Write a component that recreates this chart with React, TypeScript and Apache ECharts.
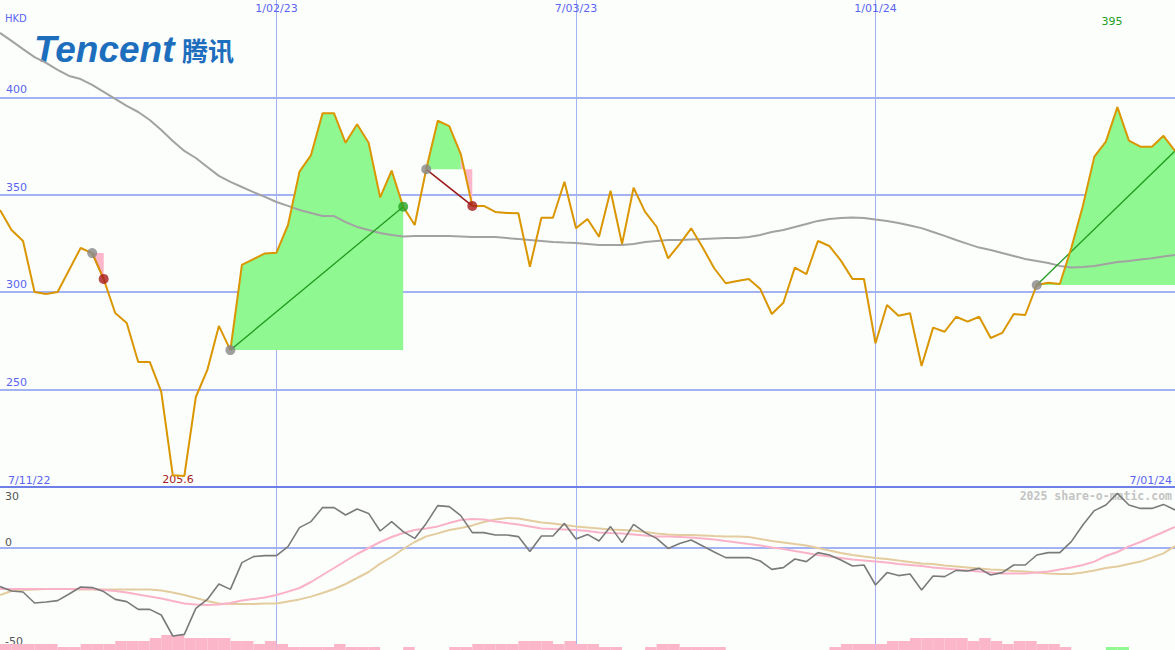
import React, { useEffect, useRef } from "react";
import * as echarts from "echarts";

// ---- data ----
const firstWeek = "2022-07-18";
const pointCount = 103;
const dateTickIdx = [24, 50, 76];
const rangeStartLabel = "7/11/22";
const rangeEndLabel = "7/01/24";
const currency = "HKD";
const priceTicks = [250, 300, 350, 400];
const lowerTickLabels = ["30", "0", "-50"];
const lowerTickValues = [30, 0, -50];

const price = [
  342.2, 331.9, 326.3, 300.1, 299.1, 300.1, 311.4, 322.7, 320.1, 306.8,
  289.3, 284.2, 264.2, 264.2, 248.8, 206.0, 205.6, 246.2, 260.1, 282.7,
  270.3, 314.0, 317.0, 319.9, 320.3, 334.5, 361.9, 370.4, 391.8, 391.8,
  376.7, 386.2, 376.7, 348.7, 362.4, 343.9, 334.5, 363.1, 388.0, 385.3,
  370.9, 344.3, 344.3, 341.2, 340.7, 340.5, 313.1, 338.2, 338.2, 356.7,
  332.8, 337.6, 328.5, 352.1, 324.7, 353.6, 341.2, 333.6, 317.4, 324.7,
  332.8, 322.9, 312.3, 304.6, 305.7, 306.8, 301.6, 288.8, 294.6, 312.6,
  309.3, 326.3, 323.7, 316.2, 306.8, 306.8, 273.8, 293.4, 287.9, 289.2,
  262.1, 281.8, 279.7, 287.4, 284.9, 287.4, 276.5, 279.1, 288.8, 288.3,
  303.7, 304.9, 304.2, 322.7, 344.3, 369.6, 377.3, 395.0, 377.8, 374.7,
  374.7, 380.3, 372.5,
];

const longAverage = [
  433.1, 429.0, 424.8, 420.7, 417.7, 414.1, 411.0, 409.4, 406.4, 402.8,
  399.2, 395.6, 392.5, 388.4, 383.3, 377.6, 372.5, 368.9, 364.3, 359.7,
  356.6, 354.0, 351.4, 348.9, 346.3, 344.3, 342.2, 340.7, 339.1, 339.1,
  336.0, 333.5, 331.9, 330.4, 329.4, 328.6, 328.9, 328.9, 328.9, 328.9,
  328.6, 328.3, 328.3, 328.3, 327.8, 327.3, 326.8, 326.3, 325.8, 325.5,
  325.3, 324.8, 324.2, 324.2, 324.2, 324.8, 325.8, 326.3, 326.8, 326.8,
  327.1, 327.3, 327.6, 327.8, 327.8, 328.3, 329.4, 330.9, 331.9, 333.5,
  335.0, 336.6, 337.6, 338.1, 338.4, 338.1, 337.3, 336.6, 335.5, 334.2,
  332.9, 330.9, 328.9, 326.8, 324.8, 322.9, 321.7, 320.1, 318.6, 317.0,
  316.0, 315.0, 313.5, 312.7, 312.9, 313.5, 314.5, 315.5, 316.0, 316.8,
  317.4, 318.3, 319.1,
];

const oscillator = [
  -19.3, -21.5, -22, -27.5, -27, -26.3, -23, -19.5, -19.8, -21.8,
  -25.7, -26.8, -30.7, -30.7, -33.5, -44, -43.2, -30.2, -25.7, -18,
  -20.7, -7.3, -4.3, -3.8, -3.8, 0.7, 10.2, 13.2, 20.2, 20.2,
  16.5, 19.5, 17.3, 8.5, 13.2, 8.2, 4.8, 12.3, 21.2, 20.7,
  16.2, 7.7, 7.7, 6.5, 6.5, 5.7, -1.8, 6, 6, 12.3,
  4.5, 6.8, 3.5, 10.7, 2.7, 11.8, 7.7, 4.8, -0.2, 2.3,
  4, 1, -2, -4.8, -4.8, -4.8, -6.5, -10.7, -9.8, -5.5,
  -6.8, -2.3, -3.5, -6, -9, -8.5, -18.5, -12.3, -13.8, -13,
  -21, -14, -14.3, -11.2, -11.5, -10.2, -13.5, -12.3, -8.5, -8.5,
  -3.5, -2.3, -2.3, 3.2, 11.5, 18.7, 21.5, 27.3, 21.5, 19.8,
  19.8, 21.8, 19,
];

const signalFast = [
  -20.5, -20.5, -20.5, -20.5, -20.5, -20.5, -20.5, -20.5, -20.5, -21,
  -21.5, -22.3, -23.3, -24.3, -25.3, -26.5, -27.7, -28.3, -28.5, -28.3,
  -27.5, -26.3, -25.5, -24.8, -23.5, -21.8, -20, -17, -13.5, -10,
  -6.5, -3, 0, 3, 5.5, 7.5, 9, 9.8, 10.8, 12.5,
  14, 14.5, 14.3, 13.3, 12.5, 11.8, 10.8, 9.8, 9.5, 9.3,
  9, 8.5, 7.8, 7.5, 7.3, 6.8, 6.3, 5.8, 5.7, 5.5,
  5.3, 4.8, 4.3, 3.5, 2.8, 2, 1.3, 0.3, -0.5, -1.5,
  -2.5, -3.5, -4.3, -5, -5.8, -6.3, -6.8, -7.3, -8, -8.5,
  -9, -9.8, -10.3, -10.8, -11.3, -11.8, -12.3, -12.7, -12.8, -12.7,
  -12.3, -11.8, -10.8, -9.8, -8.5, -6.8, -4, -2, 0.8, 3,
  5.5, 8, 10.5,
];

const signalSlow = [
  -23.5, -21.5, -21, -20.8, -20.5, -20.5, -20.5, -20.7, -20.7, -20.7,
  -20.7, -20.7, -20.7, -20.7, -21.3, -22.3, -23.5, -25, -26.5, -27.8,
  -28, -28, -28, -27.8, -27.7, -26.8, -25.7, -24.3, -22.5, -20.5,
  -18, -15, -12, -7.8, -4.5, -0.5, 3, 5.8, 7.3, 9,
  10, 11.3, 13, 14.3, 15, 14.8, 13.8, 12.8, 12.3, 11.5,
  10.8, 10.3, 9.8, 9.3, 9, 8.7, 8, 7.3, 6.8, 6.5,
  6.5, 6.3, 6, 5.8, 5.7, 5.5, 4.5, 3.5, 2.8, 2,
  1.3, 0, -1.3, -2.5, -3.5, -4.3, -5, -5.5, -6.3, -7,
  -7.7, -8, -8.7, -9.2, -9.7, -10.2, -10.7, -11, -11.5, -11.8,
  -12.3, -12.8, -13, -13, -12.3, -11.3, -10, -9.3, -8, -6.8,
  -4.8, -2.7, 1,
];

// negative = pink bar, positive = green bar
const histogram = [
  -2, -2, -2, -2, -2, -1, -1, -2, -2, -2,
  -3, -3, -3, -4, -5, -5, -4, -4, -4, -4,
  -3, -3, -2, -3, -2, -1, -1, -1, -1, -2,
  -1, -1, -1, 0, 0, -1, 0, 0, 0, -1,
  -1, -2, -2, -2, -2, -3, -3, -3, -2, -3,
  -2, -2, -1, -1, 0, 0, -1, -2, -2, -1,
  -1, -1, -1, 0, 0, 0, 0, 0, 0, 0,
  0, 0, -1, -2, -2, -2, -2, -3, -3, -4,
  -4, -4, -4, -4, -3, -4, -3, -2, -3, -3,
  -2, -2, -1, 0, 0, 0, 1, 1, 0, 0,
  0, 0, 0,
];

const tradeEntry = [8, 20, 37, 90];
const tradeExit = [9, 35, 41, 102];
const tradeOpen = [false, false, false, true];

// ---- styles ----
const BLUE = "#5a64f0";
const GRID = "#a3b2f2";
const GREEN_FILL = "#90f890";
const PINK_FILL = "#fbb6c9";

function buildDates(): string[] {
  const out: string[] = [];
  const t0 = Date.parse(firstWeek + "T00:00:00Z");
  for (let i = 0; i < pointCount; i++) {
    const d = new Date(t0 + i * 7 * 86400000);
    const m = d.getUTCMonth() + 1;
    const dd = String(d.getUTCDate()).padStart(2, "0");
    const yy = String(d.getUTCFullYear() % 100).padStart(2, "0");
    out.push(`${m}/${dd}/${yy}`);
  }
  return out;
}

function buildOption() {
  const dates = buildDates();
  const isTick = (i: number) => dateTickIdx.indexOf(i) >= 0;
  const series: any[] = [];

  // trade fills
  tradeEntry.forEach((e, t) => {
    const x = tradeExit[t];
    const base = price[e];
    let run: number[][] = [];
    let runColor = "";
    const flush = () => {
      if (run.length > 1) {
        series.push({
          type: "line", xAxisIndex: 0, yAxisIndex: 0, z: 1, silent: true,
          showSymbol: false, symbol: "none",
          lineStyle: { width: 0, opacity: 0 },
          areaStyle: { color: runColor, opacity: 1, origin: base },
          data: run,
        });
      }
    };
    for (let j = e; j < x; j++) {
      const c = price[j + 1] >= base ? GREEN_FILL : PINK_FILL;
      if (c !== runColor) {
        flush();
        run = [[j, price[j]]];
        runColor = c;
      }
      run.push([j + 1, price[j + 1]]);
    }
    flush();
  });

  series.push({
    type: "line", name: "MA", xAxisIndex: 0, yAxisIndex: 0, z: 2,
    showSymbol: false, symbol: "none",
    lineStyle: { color: "#a2a2a2", width: 2 },
    data: longAverage,
  });

  tradeEntry.forEach((e, t) => {
    const x = tradeExit[t];
    const win = price[x] >= price[e];
    series.push({
      type: "line", xAxisIndex: 0, yAxisIndex: 0, z: 3,
      showSymbol: false, symbol: "none",
      lineStyle: { color: win ? "#1f9a1f" : "#9b1c1c", width: win ? 1.3 : 1.6 },
      data: [[e, price[e]], [x, price[x]]],
    });
  });

  series.push({
    type: "line", name: "Price", xAxisIndex: 0, yAxisIndex: 0, z: 4,
    showSymbol: false, symbol: "none",
    lineStyle: { color: "#da9600", width: 2 },
    data: price,
  });

  const dots: any[] = [];
  tradeEntry.forEach((e, t) => {
    dots.push({ value: [e, price[e]], itemStyle: { color: "#878787" } });
    if (!tradeOpen[t]) {
      const x = tradeExit[t];
      const win = price[x] >= price[e];
      dots.push({ value: [x, price[x]], itemStyle: { color: win ? "#26a326" : "#a81a1a" } });
    }
  });
  series.push({
    type: "scatter", xAxisIndex: 0, yAxisIndex: 0, z: 5,
    symbolSize: 10, data: dots,
  });

  // lower panel
  series.push({
    type: "line", xAxisIndex: 1, yAxisIndex: 1, z: 2,
    showSymbol: false, symbol: "none",
    lineStyle: { color: "#e3cc9e", width: 2 },
    data: signalSlow,
    markLine: {
      silent: true, symbol: "none", label: { show: false },
      lineStyle: { color: GRID, width: 2, type: "solid" },
      data: [{ yAxis: 0 }],
      z: 1,
    },
  });
  series.push({
    type: "line", xAxisIndex: 1, yAxisIndex: 1, z: 3,
    showSymbol: false, symbol: "none",
    lineStyle: { color: "#f9b2c8", width: 2 },
    data: signalFast,
  });
  series.push({
    type: "line", xAxisIndex: 1, yAxisIndex: 1, z: 4,
    showSymbol: false, symbol: "none",
    lineStyle: { color: "#7a7a7a", width: 1.6 },
    data: oscillator,
  });
  series.push({
    type: "custom", xAxisIndex: 1, yAxisIndex: 2, z: 1,
    data: histogram.map((v, i) => [i, v]),
    encode: { x: 0, y: 1 },
    renderItem: (params: any, api: any) => {
      const i = api.value(0);
      const v = api.value(1);
      if (!v) return null;
      const p0 = api.coord([i, 0]);
      const p1 = api.coord([i + 1, Math.abs(v)]);
      const w = api.size([1, 0])[0];
      return {
        type: "rect",
        shape: { x: p0[0], y: p1[1], width: w, height: p0[1] - p1[1] },
        style: { fill: v < 0 ? PINK_FILL : GREEN_FILL },
      };
    },
  });

  let minI = 0, maxI = 0;
  price.forEach((p, i) => {
    if (p < price[minI]) minI = i;
    if (p > price[maxI]) maxI = i;
  });

  const lowerTop = 487, lowerH = 163, lowerMin = -51, lowerMax = 30.5;
  const lowerY = (v: number) => lowerTop + ((lowerMax - v) / (lowerMax - lowerMin)) * lowerH;

  const font = "DejaVu Sans";
  const graphic: any[] = [
    { type: "text", left: 5, top: 13, style: { text: currency, fill: BLUE, font: `10px "${font}"` } },
    { type: "text", x: 34, y: 49, style: { text: "Tencent", fill: "#1e6ebe", font: 'italic bold 37px "Liberation Sans"', verticalAlign: "middle" } },
    { type: "text", x: 182, y: 49, style: { text: "腾讯", fill: "#1e6ebe", font: 'bold 26px "Noto Sans CJK SC"', verticalAlign: "middle" } },
    { type: "text", x: 8, y: 480, style: { text: rangeStartLabel, fill: BLUE, font: `11px "${font}"`, verticalAlign: "middle" } },
    { type: "text", x: 1172, y: 480, style: { text: rangeEndLabel, fill: BLUE, font: `11px "${font}"`, verticalAlign: "middle", align: "right" } },
    { type: "text", x: 178, y: 479, style: { text: String(price[minI]), fill: "#a51c1c", font: `11px "${font}"`, verticalAlign: "middle", align: "center" } },
    { type: "text", x: 1112, y: 21, style: { text: String(Math.round(price[maxI])), fill: "#22a022", font: `11px "${font}"`, verticalAlign: "middle", align: "center" } },
    { type: "text", x: 1172, y: 496, z: -1, style: { text: "2025 share-o-matic.com", fill: "#c4c4c4", font: 'bold 11.5px "DejaVu Sans Mono"', verticalAlign: "middle", align: "right" } },
    { type: "line", shape: { x1: 0, y1: 487, x2: 1175, y2: 487 }, z: 10, style: { stroke: "#6e80e8", lineWidth: 2 } },
  ];
  lowerTickLabels.forEach((t, k) => {
    const yy = Math.min(Math.max(lowerY(lowerTickValues[k]) - 6, 496), 641);
    graphic.push({ type: "text", x: 5, y: yy, style: { text: t, fill: "#555555", font: `11px "${font}"`, verticalAlign: "middle" } });
  });

  const xCommon = {
    type: "category",
    data: dates,
    boundaryGap: false,
    axisLine: { show: false },
    axisTick: { show: false },
    splitLine: { show: true, interval: (i: number) => isTick(i), lineStyle: { color: GRID, width: 1 } },
  };

  return {
    animation: false,
    backgroundColor: "#fcfefc",
    grid: [
      { left: 0, right: 0, top: 0, height: 487 },
      { left: 0, right: 0, top: lowerTop, height: lowerH },
    ],
    xAxis: [
      {
        ...xCommon, gridIndex: 0, position: "top",
        axisLabel: { show: true, inside: true, margin: 3, interval: (i: number) => isTick(i), color: BLUE, fontSize: 11, fontFamily: font },
      },
      { ...xCommon, gridIndex: 1, axisLabel: { show: false } },
    ],
    yAxis: [
      {
        type: "value", gridIndex: 0, min: 200, max: 450, interval: 50,
        axisLine: { show: false }, axisTick: { show: false },
        axisLabel: {
          inside: true, margin: 6, color: BLUE, fontSize: 11, fontFamily: font,
          verticalAlign: "bottom", padding: [0, 0, 2, 0],
          formatter: (v: number) => (priceTicks.indexOf(v) >= 0 ? String(v) : ""),
        },
        splitLine: { show: true, showMinLine: false, showMaxLine: false, lineStyle: { color: GRID, width: 2 } },
      },
      {
        type: "value", gridIndex: 1, min: lowerMin, max: lowerMax,
        axisLine: { show: false }, axisTick: { show: false }, axisLabel: { show: false }, splitLine: { show: false },
      },
      {
        type: "value", gridIndex: 1, min: 0, max: lowerH / 3, show: false, splitLine: { show: false },
      },
    ],
    graphic,
    series,
  };
}

export default function App() {
  const ref = useRef<HTMLDivElement>(null);
  useEffect(() => {
    document.body.style.margin = "0";
    if (!ref.current) return;
    const chart = echarts.init(ref.current, undefined, { renderer: "svg" });
    chart.setOption(buildOption() as any);
    return () => chart.dispose();
  }, []);
  return <div ref={ref} style={{ width: 1175, height: 650 }} />;
}
